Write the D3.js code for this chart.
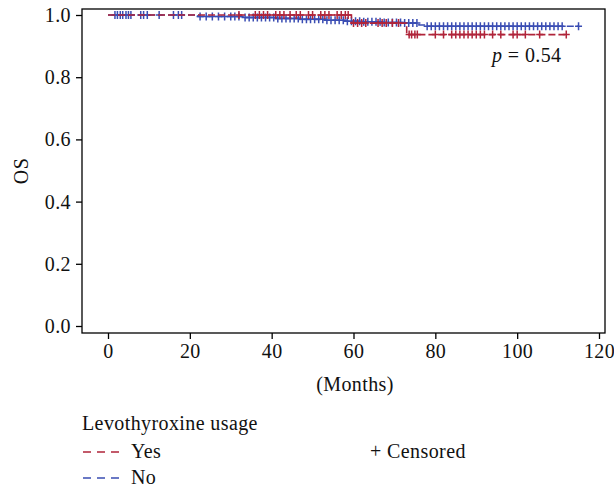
<!DOCTYPE html>
<html><head><meta charset="utf-8">
<script src="https://cdn.jsdelivr.net/npm/d3@7"></script>
<style>body{margin:0;background:#fff}svg{display:block}text{font-family:"Liberation Serif",serif;fill:#111;letter-spacing:0.4px}</style>
</head><body><svg id="c" width="614" height="489"></svg>
<script>
// Kaplan-Meier step data
const groups = ["Yes", "No"];
const colors = {Yes: "#b0243a", No: "#3a4db3"};
const noTimes = [0, 22, 33, 41, 47, 53, 58, 62, 67, 72, 76, 77.5, 115];
const noSurv  = [1.0, 0.995, 0.992, 0.989, 0.986, 0.983, 0.980, 0.978, 0.976, 0.974, 0.968, 0.964, 0.964];
const yesTimes = [0, 59.5, 73, 112];
const yesSurv  = [1.0, 0.974, 0.937, 0.937];
const noCensor = [1.7, 2.3, 3, 3.6, 4.4, 5, 5.6, 8, 8.7, 9.6, 12.5, 16, 17.2, 18, 22.5, 24, 25.5, 27, 28.5, 30, 31, 32, 33.5, 34.5, 35.5, 36.5, 37.5, 38.5, 39.5, 40.5, 41.5, 42.5, 43.5, 44.5, 45.5, 46.5, 47.5, 48.5, 49.5, 50.5, 51.5, 52.5, 53.5, 54.5, 55.5, 56.5, 57.5, 58.5, 59.5, 60.5, 61.5, 62.5, 63.5, 64.5, 65.5, 66.5, 67.5, 68.5, 69.5, 70.5, 71.5, 72.5, 73.5, 74.5, 75.5, 78, 79, 80, 81, 82, 83, 84, 85, 86, 87, 88, 89, 90, 91, 92, 93, 94, 95, 96, 97, 98, 99, 100, 101, 102, 103, 104, 105, 106, 107, 108, 109, 110, 111, 115];
const yesCensor = [32, 36, 37, 38, 39, 41, 42, 43, 44.5, 46, 47, 49, 50, 52, 53, 54, 56, 57, 58, 58.7, 60, 61, 62, 63, 66, 67, 68, 69.5, 71, 73.6, 74.2, 75, 75.6, 80, 82, 84, 85, 86, 87, 88, 89, 90, 91, 92, 94, 96, 99, 100, 102, 105.5, 112];
const xTicks = [0, 20, 40, 60, 80, 100, 120];
const yTicks = [0.0, 0.2, 0.4, 0.6, 0.8, 1.0];
const pText = "0.54";
const legendTitle = "Levothyroxine usage";

const svg = d3.select("#c");
const L = 82, R = 605, T = 9, B = 333;
const x = d3.scaleLinear().domain([0, 120]).range([108, 599]);
const y = d3.scaleLinear().domain([0, 1]).range([326, 15]);
const FS = 20;

// box
svg.append("rect").attr("x", L).attr("y", T).attr("width", R - L).attr("height", B - T)
  .attr("fill", "none").attr("stroke", "#000").attr("stroke-width", 1.3);

const xa = svg.append("g").attr("transform", `translate(0,${B})`)
  .call(d3.axisBottom(x).tickValues(xTicks).tickSize(6).tickPadding(5).tickFormat(d3.format("d")));
const ya = svg.append("g").attr("transform", `translate(${L},0)`)
  .call(d3.axisLeft(y).tickValues(yTicks).tickSize(6).tickPadding(5).tickFormat(d3.format(".1f")));
[xa, ya].forEach(a => {
  a.select(".domain").remove();
  a.selectAll("line").attr("stroke", "#000").attr("stroke-width", 1.3);
  a.selectAll("text").attr("font-family", "Liberation Serif").attr("font-size", FS).attr("fill", "#111");
});

function stepPts(times, surv) {
  const pts = [];
  for (let i = 0; i < times.length; i++) {
    if (i > 0) pts.push([times[i], surv[i - 1]]);
    pts.push([times[i], surv[i]]);
  }
  return pts;
}
function survAt(times, surv, t) {
  let s = surv[0];
  for (let i = 0; i < times.length; i++) if (times[i] <= t) s = surv[i];
  return s;
}
const line = d3.line().x(d => x(d[0])).y(d => y(d[1]));
const data = {
  No: {times: noTimes, surv: noSurv, cens: noCensor},
  Yes: {times: yesTimes, surv: yesSurv, cens: yesCensor}
};
["No", "Yes"].forEach(g => {
  const d = data[g];
  svg.append("path").attr("d", line(stepPts(d.times, d.surv)))
    .attr("fill", "none").attr("stroke", colors[g]).attr("stroke-width", 1.6)
    .attr("stroke-dasharray", "7,3");
  const cg = svg.append("g");
  d.cens.forEach(t => {
    const cx = x(t), cy = y(survAt(d.times, d.surv, t));
    cg.append("path").attr("d", `M${cx - 3.5},${cy}H${cx + 3.5}M${cx},${cy - 4}V${cy + 4}`)
      .attr("stroke", colors[g]).attr("stroke-width", 1.5).attr("fill", "none");
  });
});

// p value
const pt = svg.append("text").attr("x", 492).attr("y", 62).attr("font-size", FS);
pt.append("tspan").attr("font-style", "italic").text("p");
pt.append("tspan").text(" = " + pText);

// axis titles
svg.append("text").attr("x", 355).attr("y", 391).attr("text-anchor", "middle").attr("font-size", FS).text("(Months)");
svg.append("text").attr("transform", "translate(28,171) rotate(-90)").attr("text-anchor", "middle").attr("font-size", FS).text("OS");

// legend
svg.append("text").attr("x", 82).attr("y", 430).attr("font-size", FS).text(legendTitle);
groups.forEach((g, i) => {
  const yy = 452 + i * 26;
  svg.append("line").attr("x1", 83).attr("x2", 119).attr("y1", yy).attr("y2", yy)
    .attr("stroke", colors[g]).attr("stroke-width", 1.3).attr("stroke-dasharray", "8,6");
  svg.append("text").attr("x", 131).attr("y", yy + 6).attr("font-size", FS).text(g);
});
svg.append("text").attr("x", 370).attr("y", 458).attr("font-size", FS).text("+ Censored");
</script></body></html>
